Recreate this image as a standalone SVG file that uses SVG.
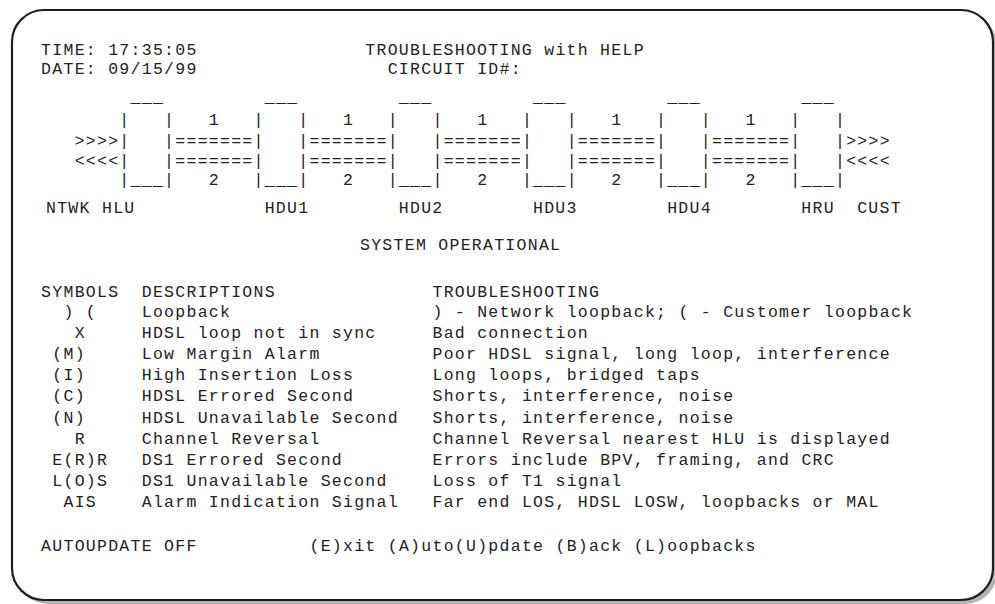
<svg xmlns="http://www.w3.org/2000/svg" width="995" height="604" viewBox="0 0 995 604">
<style>
text { font-family: "Liberation Mono", "Courier New", monospace; font-size: 16.5px; letter-spacing: 1.28px; fill: #222222; white-space: pre; }
.frame { fill: #ffffff; stroke: #1e1e1e; stroke-width: 2.2; }
.shadow { fill: #b4b4b4; }
</style>
<g id="frame">
<rect class="shadow" x="16" y="14" width="981" height="590" rx="32" ry="32"/>
<rect class="frame" x="12" y="10" width="981" height="590" rx="32" ry="32"/>
</g>
<g id="header">
<text x="41.1" y="55">TIME: 17:35:05</text>
<text x="365.3" y="55">TROUBLESHOOTING with HELP</text>
<text x="41.1" y="74">DATE: 09/15/99</text>
<text x="387.7" y="74">CIRCUIT ID#:</text>
</g>
<g id="circuit">
<text x="41.1" y="102" xml:space="preserve">        ___         ___         ___         ___         ___         ___</text>
<text x="41.1" y="125" xml:space="preserve">       |   |   1   |   |   1   |   |   1   |   |   1   |   |   1   |   |</text>
<text x="41.1" y="146" xml:space="preserve">   &gt;&gt;&gt;&gt;|   |=======|   |=======|   |=======|   |=======|   |=======|   |&gt;&gt;&gt;&gt;</text>
<text x="41.1" y="166" xml:space="preserve">   &lt;&lt;&lt;&lt;|   |=======|   |=======|   |=======|   |=======|   |=======|   |&lt;&lt;&lt;&lt;</text>
<text x="41.1" y="185" xml:space="preserve">       |___|   2   |___|   2   |___|   2   |___|   2   |___|   2   |___|</text>
</g>
<g id="labels">
<text x="46" y="213">NTWK</text>
<text x="102" y="213">HLU</text>
<text x="264.7" y="213">HDU1</text>
<text x="398.8" y="213">HDU2</text>
<text x="533" y="213">HDU3</text>
<text x="667.2" y="213">HDU4</text>
<text x="801.3" y="213">HRU</text>
<text x="857.2" y="213">CUST</text>
</g>
<g id="status">
<text x="360" y="250">SYSTEM OPERATIONAL</text>
</g>
<g id="legend">
<text x="41.1" y="297.3" xml:space="preserve">SYMBOLS  DESCRIPTIONS              TROUBLESHOOTING</text>
<text x="41.1" y="316.6" xml:space="preserve">  ) (    Loopback                  ) - Network loopback; ( - Customer loopback</text>
<text x="41.1" y="337.8" xml:space="preserve">   X     HDSL loop not in sync     Bad connection</text>
<text x="41.1" y="359" xml:space="preserve"> (M)     Low Margin Alarm          Poor HDSL signal, long loop, interference</text>
<text x="41.1" y="380.2" xml:space="preserve"> (I)     High Insertion Loss       Long loops, bridged taps</text>
<text x="41.1" y="401.4" xml:space="preserve"> (C)     HDSL Errored Second       Shorts, interference, noise</text>
<text x="41.1" y="422.6" xml:space="preserve"> (N)     HDSL Unavailable Second   Shorts, interference, noise</text>
<text x="41.1" y="443.8" xml:space="preserve">   R     Channel Reversal          Channel Reversal nearest HLU is displayed</text>
<text x="41.1" y="465" xml:space="preserve"> E(R)R   DS1 Errored Second        Errors include BPV, framing, and CRC</text>
<text x="41.1" y="486.2" xml:space="preserve"> L(O)S   DS1 Unavailable Second    Loss of T1 signal</text>
<text x="41.1" y="507.4" xml:space="preserve">  AIS    Alarm Indication Signal   Far end LOS, HDSL LOSW, loopbacks or MAL</text>
</g>
<g id="footer">
<text x="41.1" y="551.3" xml:space="preserve">AUTOUPDATE OFF          (E)xit (A)uto(U)pdate (B)ack (L)oopbacks</text>
</g>
</svg>
